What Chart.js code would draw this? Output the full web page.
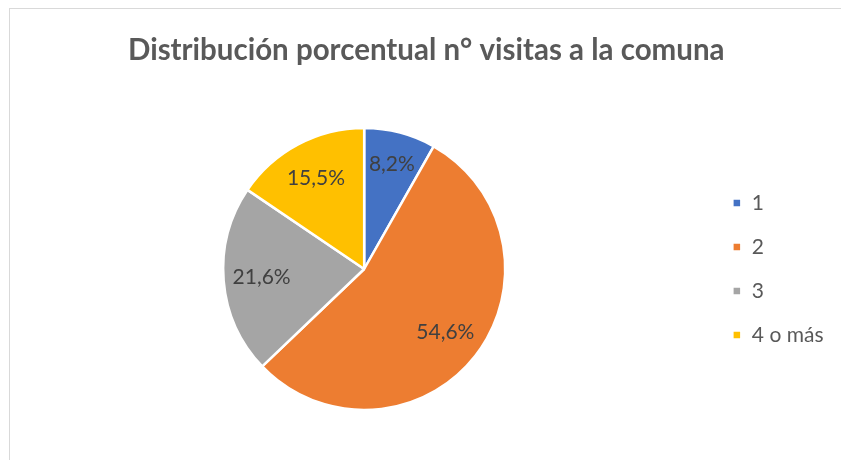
<!DOCTYPE html>
<html>
<head>
<meta charset="utf-8">
<script src="https://cdn.jsdelivr.net/npm/chart.js@4.4.0/dist/chart.umd.min.js"></script>
<style>
  html, body { margin: 0; padding: 0; background: #fff; overflow: hidden; }
  #frame {
    position: absolute; left: 9px; top: 8px;
    width: 840px; height: 452px;
    border-left: 1.5px solid #d9d9d9; border-top: 1.5px solid #d9d9d9;
  }
  #chart { display: block; }
</style>
</head>
<body>
<div id="frame"><canvas id="chart" width="840" height="452"></canvas></div>
<script>
const categories = ['1', '2', '3', '4 o más'];
const percentages = [8.2, 54.6, 21.6, 15.5];
const sliceColors = ['#4472C4', '#ED7D31', '#A5A5A5', '#FFC000'];
const chartTitle = 'Distribución porcentual n° visitas a la comuna';

const fontFamily = 'Lato, "Open Sans", sans-serif';

// etiquetas de datos dentro de cada porción, estilo Excel
const sliceLabels = {
    id: 'sliceLabels',
    afterDatasetsDraw(chart) {
        const ctx = chart.ctx;
        const meta = chart.getDatasetMeta(0);
        ctx.save();
        ctx.font = '21px ' + fontFamily;
        ctx.fillStyle = '#404040';
        ctx.textAlign = 'center';
        ctx.textBaseline = 'middle';
        meta.data.forEach((arc, i) => {
            const mid = (arc.startAngle + arc.endAngle) / 2;
            const r = arc.outerRadius * (i === 0 ? 0.77 : 0.73);
            const x = arc.x + Math.cos(mid) * r;
            const y = arc.y + Math.sin(mid) * r;
            ctx.fillText(percentages[i].toFixed(1).replace('.', ',') + '%', x, y);
        });
        ctx.restore();
    }
};

new Chart(document.getElementById('chart'), {
    type: 'pie',
    data: {
        labels: categories,
        datasets: [{
            data: percentages,
            backgroundColor: sliceColors,
            borderColor: '#ffffff',
            borderWidth: 2.5
        }]
    },
    options: {
        responsive: false,
        animation: false,
        layout: { padding: { top: 0, left: 9, right: 16.5, bottom: 49.75 } },
        plugins: {
            title: {
                display: true,
                text: chartTitle,
                color: '#595959',
                font: { family: fontFamily, size: 29.5, weight: 'bold' },
                padding: { top: 23.8, bottom: 58.55 }
            },
            legend: {
                position: 'right',
                fullSize: false,
                labels: {
                    boxWidth: 9,
                    boxHeight: 9,
                    padding: 23,
                    color: '#595959',
                    font: { family: fontFamily, size: 21 }
                }
            },
            tooltip: { enabled: false }
        }
    },
    plugins: [sliceLabels]
});
</script>
</body>
</html>
